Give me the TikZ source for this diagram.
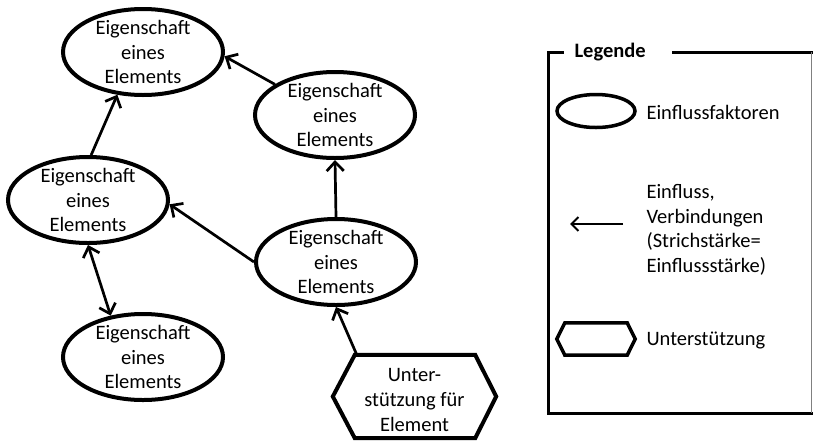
\documentclass[tikz,border=0pt]{standalone}
\usepackage{fontspec}
\setmainfont{Carlito}
\usetikzlibrary{arrows.meta,shapes.geometric,calc}

\begin{document}
\begin{tikzpicture}[x=1pt,y=-1pt,
  every node/.style={font=\fontsize{20.5}{24.6}\selectfont},
  factor/.style={ellipse, draw, line width=4pt, minimum width=160pt,
    minimum height=86pt, inner xsep=0pt, inner ysep=-8pt, align=center},
  hexbox/.style={rectangle, inner sep=0pt, align=center},
  hexline/.style={line width=4pt, line join=miter},
  link/.style={line width=2.7pt, -{Straight Barb[length=9pt,width=17pt]}},
  biglink/.style={line width=2.7pt, {Straight Barb[length=9pt,width=17pt]}-{Straight Barb[length=9pt,width=17pt]}},
  legtext/.style={anchor=west, align=left},
  frame/.style={line width=3pt, line cap=rect},
]
\useasboundingbox (0,0) rectangle (813,440);

% influence factors
\node[factor] (e1) at (143,52)  {Eigenschaft\\eines\\Elements};
\node[factor] (e2) at (335,115) {Eigenschaft\\eines\\Elements};
\node[factor] (e3) at (88,200)  {Eigenschaft\\eines\\Elements};
\node[factor] (e4) at (336,262) {Eigenschaft\\eines\\Elements};
\node[factor] (e5) at (143,357) {Eigenschaft\\eines\\Elements};

% support element
\node[hexbox, minimum width=163pt, minimum height=83pt] (hex) at (414.5,396.5) {};
\node[hexbox] (hextext) at (414.5,400) {Unter-\\stützung für\\Element};
\draw[hexline] (hex.west) -- ($(hex.north west)+(22,0)$) -- ($(hex.north east)+(-21,0)$)
  -- (hex.east) -- ($(hex.south east)+(-21,0)$) -- ($(hex.south west)+(22,0)$) -- cycle;

% influences
\draw[link] (e2.153) -- (e1.-3);
\draw[link] (e3.86) -- (e1.-121);
\draw[link] (e4.north) -- (e2.south);
\draw[link] (e4.west) -- (e3.-3);
\draw[biglink] (e3.south) -- (e5.128);
\draw[link] ($(hex.north west)+(24,0)$) -- (e4.south);

% legend frame
\draw[frame] (562,52) -- (548,52) -- (548,413) -- (811,413);
\draw[frame] (673,52) -- (811,52);
\draw[line width=1pt, gray] (811,52) -- (811,413);
\node[anchor=west, font=\fontsize{20.5}{24.6}\selectfont\bfseries] (legtitle) at (571,52) {Legende};

% legend entries
\node[ellipse, draw, line width=3.5pt, minimum width=78pt, minimum height=33pt, inner sep=0pt] (lell) at (596,111) {};
\node[legtext] (lelltext) at (643,112) {Einflussfaktoren};

\coordinate (lfrom) at (623,224);
\coordinate (lto) at (570,224);
\draw[line width=2pt, -{Straight Barb[length=7pt,width=14pt]}] (lfrom) -- (lto);
\node[legtext] (larrtext) at (643,230) {Einfluss,\\Verbindungen\\(Strichstärke=\\Einflussstärke)};

\node[hexbox, minimum width=78pt, minimum height=32pt] (lhex) at (596,339) {};
\draw[line width=3.5pt, line join=miter] (lhex.west) -- ($(lhex.north west)+(8,0)$) -- ($(lhex.north east)+(-8,0)$)
  -- (lhex.east) -- ($(lhex.south east)+(-8,0)$) -- ($(lhex.south west)+(8,0)$) -- cycle;
\node[legtext] (lhextext) at (643,340) {Unterstützung};
\end{tikzpicture}
\end{document}
